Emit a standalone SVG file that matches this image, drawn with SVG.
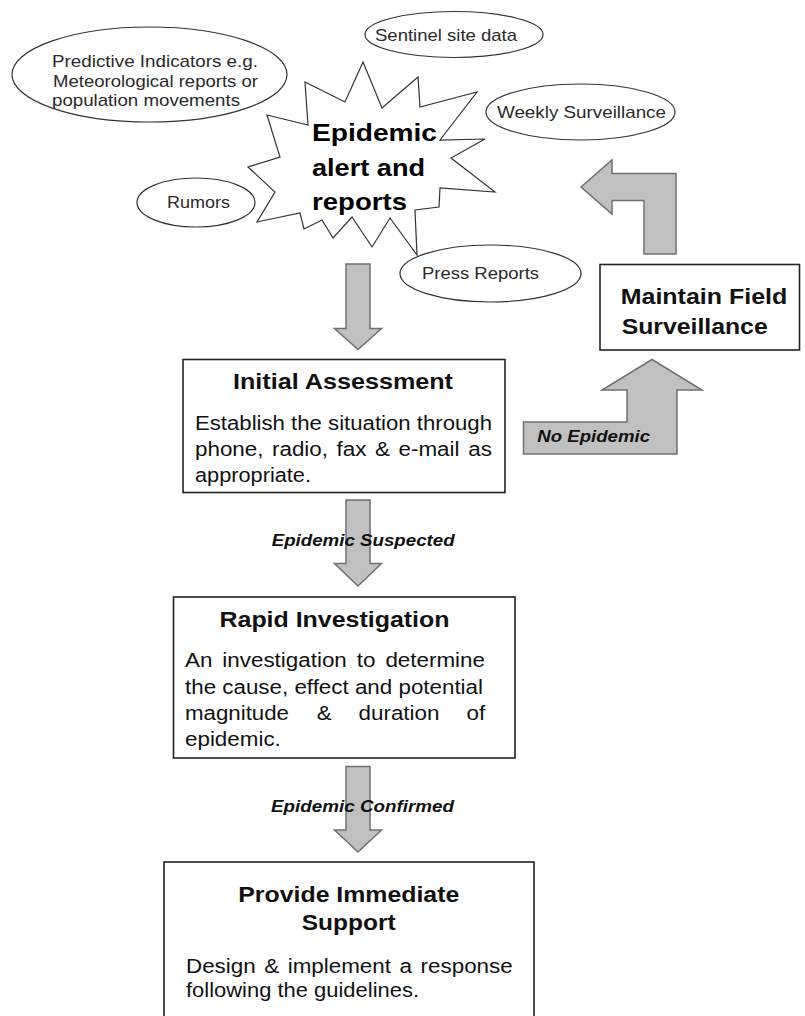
<svg xmlns="http://www.w3.org/2000/svg" width="805" height="1016" viewBox="0 0 805 1016">
  <style>
    .bubble { fill: #ffffff; stroke: #333333; stroke-width: 1.2; }
    .bubble-text { font-family: "Liberation Sans", Arial, sans-serif; font-size: 17px; fill: #2a2a2a; }
    .burst { fill: #ffffff; stroke: #333333; stroke-width: 1.2; stroke-linejoin: miter; }
    .burst-text { font-family: "Liberation Sans", Arial, sans-serif; font-size: 24px; font-weight: bold; fill: #000000; }
    .box { fill: #ffffff; stroke: #222222; stroke-width: 1.6; }
    .title { font-family: "Liberation Sans", Arial, sans-serif; font-size: 22px; font-weight: bold; fill: #111111; }
    .body { font-family: "Liberation Sans", Arial, sans-serif; font-size: 20px; fill: #111111; }
    .arrow { fill: #c0c0c0; stroke: #707070; stroke-width: 1.5; stroke-linejoin: miter; }
    .label { font-family: "Liberation Sans", Arial, sans-serif; font-size: 16.5px; font-weight: bold; font-style: italic; fill: #111111; }
  </style>

  <rect x="0" y="0" width="805" height="1016" fill="#ffffff"/>

  <!-- central alert starburst -->
  <g id="alert">
    <polygon class="burst" points="363,62 382,108 418,77 420,107 477,92 440,140 485,139 451,158 495,192 440,188 439,207 415,210 417,255 390,218 372,247 352,217 333,238 322,220 304,229 300,213 257,222 275,192 248,167 280,157 267,115 308,125 305,82 345,102"/>
    <text class="burst-text" x="312" y="141" textLength="125" lengthAdjust="spacingAndGlyphs">Epidemic</text>
    <text class="burst-text" x="312" y="176" textLength="113" lengthAdjust="spacingAndGlyphs">alert and</text>
    <text class="burst-text" x="312" y="210" textLength="95" lengthAdjust="spacingAndGlyphs">reports</text>
  </g>

  <!-- information sources -->
  <g id="predictive">
    <ellipse class="bubble" cx="149.5" cy="74.5" rx="137.5" ry="47.5"/>
    <text class="bubble-text" x="52" y="67" textLength="206" lengthAdjust="spacingAndGlyphs">Predictive Indicators e.g.</text>
    <text class="bubble-text" x="53" y="87" textLength="205" lengthAdjust="spacingAndGlyphs">Meteorological reports or</text>
    <text class="bubble-text" x="52" y="106" textLength="188" lengthAdjust="spacingAndGlyphs">population movements</text>
  </g>

  <g id="sentinel">
    <ellipse class="bubble" cx="454" cy="34.5" rx="89" ry="23"/>
    <text class="bubble-text" x="375" y="41" textLength="142" lengthAdjust="spacingAndGlyphs">Sentinel site data</text>
  </g>

  <g id="weekly">
    <ellipse class="bubble" cx="580.5" cy="112" rx="94.5" ry="28"/>
    <text class="bubble-text" x="497" y="118" textLength="169" lengthAdjust="spacingAndGlyphs">Weekly Surveillance</text>
  </g>

  <g id="rumors">
    <ellipse class="bubble" cx="196" cy="202.5" rx="59" ry="24.5"/>
    <text class="bubble-text" x="167" y="207.5" textLength="63" lengthAdjust="spacingAndGlyphs">Rumors</text>
  </g>

  <g id="press">
    <ellipse class="bubble" cx="490.5" cy="273.5" rx="90.5" ry="28.5"/>
    <text class="bubble-text" x="422" y="278.5" textLength="117" lengthAdjust="spacingAndGlyphs">Press Reports</text>
  </g>

  <!-- process steps -->
  <g id="initial-assessment">
    <rect class="box" x="183" y="359.5" width="322" height="133"/>
    <text class="title" x="233" y="389" textLength="220" lengthAdjust="spacingAndGlyphs">Initial Assessment</text>
    <text class="body" x="195" y="430" textLength="297" lengthAdjust="spacingAndGlyphs">Establish the situation through</text>
    <text class="body" x="195" y="456" textLength="68.5" lengthAdjust="spacingAndGlyphs">phone,</text>
    <text class="body" x="272" y="456" textLength="56" lengthAdjust="spacingAndGlyphs">radio,</text>
    <text class="body" x="336.5" y="456" textLength="30" lengthAdjust="spacingAndGlyphs">fax</text>
    <text class="body" x="375" y="456" textLength="15" lengthAdjust="spacingAndGlyphs">&amp;</text>
    <text class="body" x="398.5" y="456" textLength="61" lengthAdjust="spacingAndGlyphs">e-mail</text>
    <text class="body" x="468.3" y="456" textLength="23.7" lengthAdjust="spacingAndGlyphs">as</text>
    <text class="body" x="195" y="482" textLength="116" lengthAdjust="spacingAndGlyphs">appropriate.</text>
  </g>

  <g id="rapid-investigation">
    <rect class="box" x="173.5" y="597" width="341.5" height="161"/>
    <text class="title" x="219.5" y="627" textLength="230" lengthAdjust="spacingAndGlyphs">Rapid Investigation</text>
    <text class="body" x="185" y="667" textLength="27.4" lengthAdjust="spacingAndGlyphs">An</text>
    <text class="body" x="222.3" y="667" textLength="124.5" lengthAdjust="spacingAndGlyphs">investigation</text>
    <text class="body" x="356.7" y="667" textLength="18.7" lengthAdjust="spacingAndGlyphs">to</text>
    <text class="body" x="385.4" y="667" textLength="99.6" lengthAdjust="spacingAndGlyphs">determine</text>
    <text class="body" x="185" y="693.5" textLength="298" lengthAdjust="spacingAndGlyphs">the cause, effect and potential</text>
    <text class="body" x="185" y="720" textLength="104" lengthAdjust="spacingAndGlyphs">magnitude</text>
    <text class="body" x="316.7" y="720" textLength="15" lengthAdjust="spacingAndGlyphs">&amp;</text>
    <text class="body" x="358.5" y="720" textLength="81" lengthAdjust="spacingAndGlyphs">duration</text>
    <text class="body" x="466.5" y="720" textLength="18.7" lengthAdjust="spacingAndGlyphs">of</text>
    <text class="body" x="185" y="746" textLength="95.8" lengthAdjust="spacingAndGlyphs">epidemic.</text>
  </g>

  <g id="immediate-support">
    <rect class="box" x="164" y="862" width="370" height="170"/>
    <text class="title" x="238.3" y="902" textLength="221" lengthAdjust="spacingAndGlyphs">Provide Immediate</text>
    <text class="title" x="301.7" y="930" textLength="94" lengthAdjust="spacingAndGlyphs">Support</text>
    <text class="body" x="186" y="972.5" textLength="69.7" lengthAdjust="spacingAndGlyphs">Design</text>
    <text class="body" x="264.3" y="972.5" textLength="15" lengthAdjust="spacingAndGlyphs">&amp;</text>
    <text class="body" x="287.7" y="972.5" textLength="103.3" lengthAdjust="spacingAndGlyphs">implement</text>
    <text class="body" x="399.5" y="972.5" textLength="12.5" lengthAdjust="spacingAndGlyphs">a</text>
    <text class="body" x="420.6" y="972.5" textLength="92.1" lengthAdjust="spacingAndGlyphs">response</text>
    <text class="body" x="186" y="997" textLength="233" lengthAdjust="spacingAndGlyphs">following the guidelines.</text>
  </g>

  <g id="field-surveillance">
    <rect class="box" x="600" y="264.5" width="199.5" height="85.5"/>
    <text class="title" x="620.7" y="303.5" textLength="166.6" lengthAdjust="spacingAndGlyphs">Maintain Field</text>
    <text class="title" x="621.7" y="333.5" textLength="146" lengthAdjust="spacingAndGlyphs">Surveillance</text>
  </g>

  <!-- block arrows and their labels -->
  <g id="connectors">
    <polygon class="arrow" points="346,264 370,264 370,328.5 381.5,328.5 358,349.5 334.5,328.5 346,328.5"/>
    <polygon class="arrow" points="346,500 370,500 370,563.5 381.5,563.5 358,586 334.5,563.5 346,563.5"/>
    <polygon class="arrow" points="346,766.5 370,766.5 370,830 381.5,830 358,852 334.5,830 346,830"/>
    <polygon class="arrow" points="523.5,454 523.5,422 627,422 627,390 602,390 652,359.5 702,390 677,390 677,454"/>
    <polygon class="arrow" points="581,187 612,160 612,173.5 676,173.5 676,254 644,254 644,200.5 612,200.5 612,214"/>
    <text class="label" x="271.7" y="545.5" textLength="183" lengthAdjust="spacingAndGlyphs">Epidemic Suspected</text>
    <text class="label" x="271" y="812" textLength="183" lengthAdjust="spacingAndGlyphs">Epidemic Confirmed</text>
    <text class="label" x="537.3" y="442" textLength="112.7" lengthAdjust="spacingAndGlyphs">No Epidemic</text>
  </g>
</svg>
